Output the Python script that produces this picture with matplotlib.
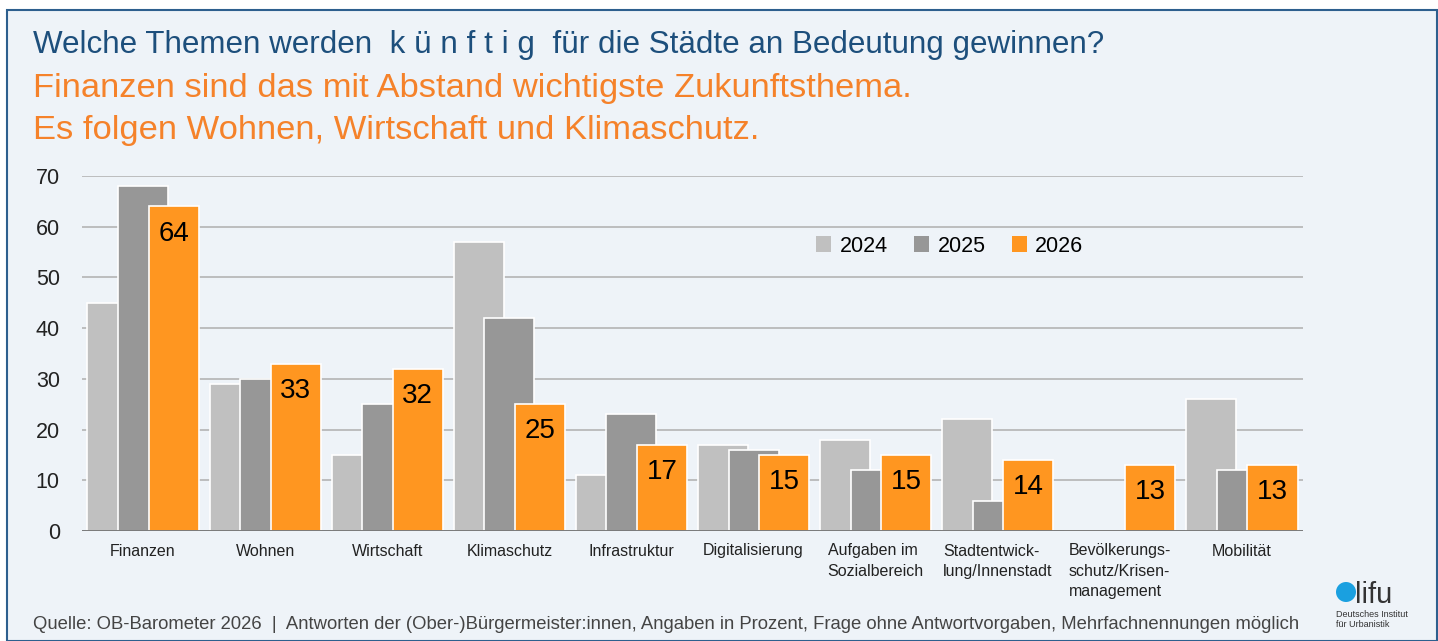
import numpy as np
import matplotlib.pyplot as plt
from matplotlib.patches import Patch, Rectangle, Ellipse

# values (percent)
themen = ["Finanzen", "Wohnen", "Wirtschaft", "Klimaschutz", "Infrastruktur",
          "Digitalisierung", "Aufgaben im\nSozialbereich", "Stadtentwick-\nlung/Innenstadt",
          "Bevölkerungs-\nschutz/Krisen-\nmanagement", "Mobilität"]
werte_2024 = [45, 29, 15, 57, 11, 17, 18, 22, 0, 26]
werte_2025 = [68, 30, 25, 42, 23, 16, 12, 6, 0, 12]
werte_2026 = [64, 33, 32, 25, 17, 15, 15, 14, 13, 13]
jahre = ["2024", "2025", "2026"]
y_ticks = [0, 10, 20, 30, 40, 50, 60, 70]

farben = ["#c0c0c0", "#979797", "#ff9620"]
W, H = 1438, 641

plt.rcParams['font.family'] = ['Liberation Sans', 'DejaVu Sans']

fig = plt.figure(figsize=(W / 100, H / 100), dpi=100)
fig.patch.set_facecolor("white")


def px(x, y):
    return x / W, 1 - y / H


# panel background with blue frame
fig.patches.append(Rectangle(px(7, 641), (W - 8) / W, (641 - 10) / H,
                             transform=fig.transFigure, facecolor="#eef3f8",
                             edgecolor="#2d5f8e", linewidth=1.5, zorder=-5))

# titles
fig.text(*px(33, 53), "Welche Themen werden  k ü n f t i g  für die Städte an Bedeutung gewinnen?",
         color="#1d4f7c", fontsize=22.6, va="baseline")
fig.text(*px(33, 97), "Finanzen sind das mit Abstand wichtigste Zukunftsthema.",
         color="#f5822a", fontsize=24.8, va="baseline")
fig.text(*px(33, 139), "Es folgen Wohnen, Wirtschaft und Klimaschutz.",
         color="#f5822a", fontsize=24.8, va="baseline")

ax = fig.add_axes([82 / W, 1 - 531 / H, (1303 - 82) / W, (531 - 176) / H])
ax.set_facecolor("none")

x = np.arange(len(themen))
breite = 0.41
versatz = [-0.25, 0.0, 0.25]
for i, werte in enumerate([werte_2024, werte_2025, werte_2026]):
    ax.bar(x + versatz[i], werte, width=breite, color=farben[i],
           edgecolor="white", linewidth=1.2, zorder=2 + i)

for xi, v in zip(x, werte_2026):
    ax.annotate(str(v), (xi + 0.25, v), xytext=(0, -19.5), textcoords="offset points",
                ha="center", va="center", fontsize=20, color="black", zorder=10)

ax.set_xlim(-0.5, 9.5)
ax.set_ylim(0, 70)
ax.set_yticks(y_ticks)
ax.set_yticklabels([str(t) for t in y_ticks], fontsize=15.5, color="#222222")
ax.set_xticks(x)
ax.set_xticklabels(themen, fontsize=11.5, color="#222222", multialignment="left",
                   linespacing=1.45, va="top")
ax.tick_params(axis="both", length=0)
ax.tick_params(axis="x", pad=9)
ax.tick_params(axis="y", pad=16)

for t in y_ticks[1:]:
    ax.axhline(t, color="#b4b4b4", linewidth=1.2, zorder=1)
ax.axhline(0, color="#6e6e6e", linewidth=2, zorder=8)
for s in ax.spines.values():
    s.set_visible(False)

handles = [Patch(facecolor=f, edgecolor="none") for f in farben]
ax.legend(handles, jahre, loc="center left", bbox_to_anchor=px(797, 246),
          bbox_transform=fig.transFigure, ncol=3, frameon=False, fontsize=15.5,
          handlelength=0.7, handleheight=0.7, handletextpad=0.4, columnspacing=1.2)

# source line
fig.text(*px(33, 629), "Quelle: OB-Barometer 2026  |  Antworten der (Ober-)Bürgermeister:innen, "
         "Angaben in Prozent, Frage ohne Antwortvorgaben, Mehrfachnennungen möglich",
         color="#444444", fontsize=13.3, va="baseline")

# difu logo
fig.patches.append(Ellipse(px(1346, 592), 20 / W, 20 / H, transform=fig.transFigure,
                           facecolor="#1aa0e0", edgecolor="none", zorder=5))
fig.text(*px(1355, 603), "lifu", color="#333333", fontsize=21, va="baseline")
fig.text(*px(1336, 617), "Deutsches Institut", color="#333333", fontsize=6.5, va="baseline")
fig.text(*px(1336, 627), "für Urbanistik", color="#333333", fontsize=6.5, va="baseline")

fig.savefig("out.png", dpi=100, facecolor=fig.get_facecolor())
